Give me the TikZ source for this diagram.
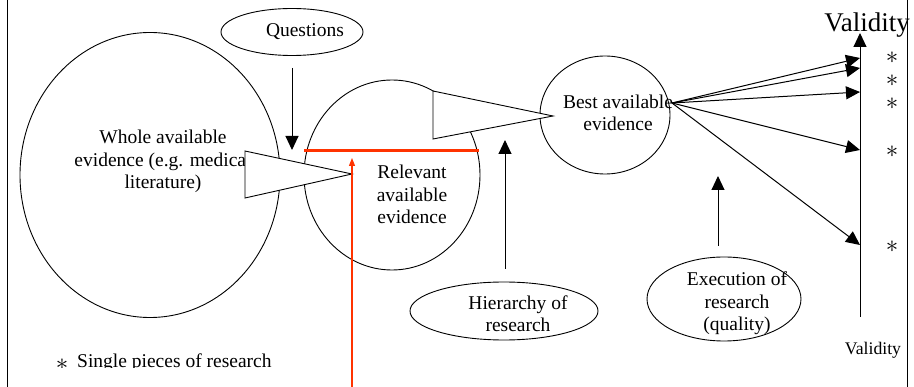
\documentclass[tikz,border=0pt]{standalone}
\usepackage{fontspec}
\setmainfont{Liberation Serif}
\usetikzlibrary{shapes.geometric,arrows.meta}
\definecolor{redline}{RGB}{255,51,0}
\tikzset{
  oval/.style={ellipse, draw, line width=0.9pt, inner sep=0pt},
  lbl/.style={anchor=base, align=center, inner sep=0pt,
    font=\fontsize{19.5}{22.7}\selectfont},
  funnel/.style={draw, fill=white, line width=0.9pt, line join=miter},
  arr/.style={line width=1pt, -{Triangle[length=14pt,width=13pt]}},
  redarr/.style={draw=redline, line width=1.3pt, -{Triangle[length=8pt,width=6pt]}},
  star/.style={inner sep=0pt, font=\fontsize{28}{28}\selectfont}
}
\begin{document}
\begin{tikzpicture}[x=1pt, y=-1pt]
\useasboundingbox (0,0) rectangle (914,387);

% outer frame sides
\draw[line width=1pt] (7,0) -- (7,387);
\draw[line width=1pt] (907,0) -- (907,387);

% evidence sets
\node[oval, minimum width=260pt, minimum height=285pt] (whole) at (150,175) {};
\node[oval, minimum width=176pt, minimum height=190pt] (relevant) at (392,175) {};
\node[oval, minimum width=130pt, minimum height=118pt] (best) at (605,115) {};

% influencing factors
\node[oval, minimum width=142pt, minimum height=47pt] (questions) at (292,32) {};
\node[oval, minimum width=188pt, minimum height=58pt] (hierarchy) at (504,311) {};
\node[oval, minimum width=154pt, minimum height=84pt] (execution) at (724,299) {};

% labels (base anchor = baseline of the last line)
\node[lbl] (tquestions) at (305,37) {Questions};
\node[lbl] (twhole) at (163,189) {Whole available\\evidence (e.g. medical\\literature)};
\node[lbl] (trelevant) at (412,224) {Relevant\\available\\evidence};
\node[lbl] (tbest) at (618,131) {Best available\\evidence};
\node[lbl] (thierarchy) at (518,332) {Hierarchy of\\research};
\node[lbl] (texecution) at (737,331) {Execution of\\research\\(quality)};

% funnels between the sets
\coordinate (f1a) at (245,151);
\coordinate (f1b) at (245,198);
\coordinate (f1tip) at (352,174);
\draw[funnel] (f1a) -- (f1tip) -- (f1b) -- cycle;
\coordinate (f2a) at (433,91);
\coordinate (f2b) at (433,139);
\coordinate (f2tip) at (553,116);
\draw[funnel] (f2a) -- (f2tip) -- (f2b) -- cycle;

% factor arrows
\coordinate (q0) at (292,68);
\coordinate (q1) at (292,150);
\draw[arr] (q0) -- (q1);
\coordinate (h0) at (505,269);
\coordinate (h1) at (505,140);
\draw[arr] (h0) -- (h1);
\coordinate (e0) at (718,246);
\coordinate (e1) at (718,176);
\draw[arr] (e0) -- (e1);

% validity axis
\coordinate (v0) at (860,317);
\coordinate (v1) at (860,33);
\draw[arr] (v0) -- (v1);
\node[inner sep=0pt, anchor=base, font=\fontsize{27}{27}\selectfont] (vtop) at (867,32) {Validity};
\node[inner sep=0pt, anchor=base, font=\fontsize{17.7}{17.7}\selectfont] (vbottom) at (873,355) {Validity};

% pieces of research along the axis
\coordinate (src) at (672,103);
\coordinate (p1) at (860,58);
\coordinate (p2) at (860,68);
\coordinate (p3) at (860,92);
\coordinate (p4) at (860,150);
\coordinate (p5) at (860,245);
\foreach \p in {p1,p2,p3,p4,p5} \draw[arr] (src) -- (\p);
\foreach \y [count=\i] in {58,81,104,152,247}
  \node[star] (s\i) at (892,\y) {$\ast$};

% red markers
\coordinate (r0) at (304,151);
\coordinate (r1) at (479,151);
\draw[redline, line width=3pt] (r0) -- (r1);
\coordinate (ra) at (352,387);
\coordinate (rb) at (352,158);
\draw[redarr] (ra) -- (rb);

% legend, cut off along its baseline
\begin{scope}
\clip (0,0) rectangle (914,368);
\node[star] (legstar) at (62,365) {$\ast$};
\node[lbl, anchor=base west] (legend) at (77,368) {Single pieces of research};
\end{scope}
\end{tikzpicture}
\end{document}
